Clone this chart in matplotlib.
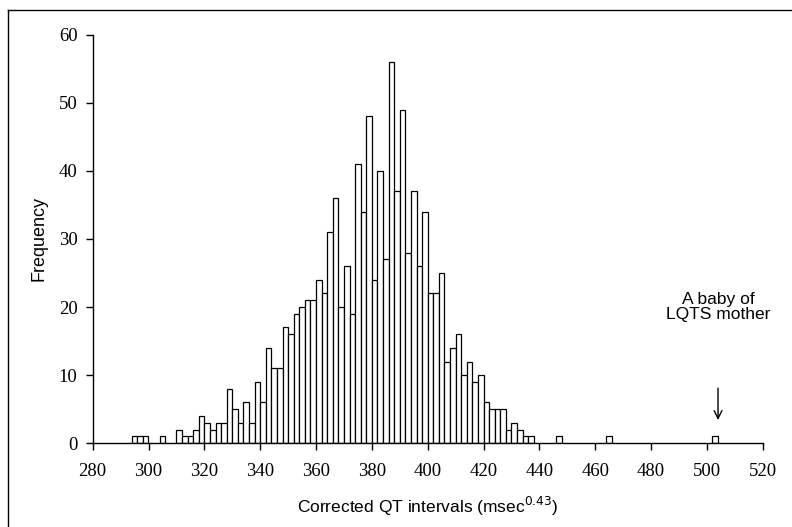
import matplotlib.pyplot as plt
from matplotlib.lines import Line2D

# bin left edges (width 2) and counts
bin_left = [294, 296, 298, 304, 310, 312, 314, 316, 318, 320,
            322, 324, 326, 328, 330, 332, 334, 336, 338, 340,
            342, 344, 346, 348, 350, 352, 354, 356, 358, 360,
            362, 364, 366, 368, 370, 372, 374, 376, 378, 380,
            382, 384, 386, 388, 390, 392, 394, 396, 398, 400,
            402, 404, 406, 408, 410, 412, 414, 416, 418, 420,
            422, 424, 426, 428, 430, 432, 434, 436, 446, 464,
            502]
counts = [1, 1, 1, 1, 2, 1, 1, 2, 4, 3,
          2, 3, 3, 8, 5, 3, 6, 3, 9, 6,
          14, 11, 11, 17, 16, 19, 20, 21, 21, 24,
          22, 31, 36, 20, 26, 19, 41, 34, 48, 24,
          40, 27, 56, 37, 49, 28, 37, 26, 34, 22,
          22, 25, 12, 14, 16, 10, 12, 9, 10, 6,
          5, 5, 5, 2, 3, 2, 1, 1, 1, 1,
          1]
bin_width = 2

x_ticks = list(range(280, 521, 20))
y_ticks = list(range(0, 61, 10))

fig = plt.figure(figsize=(7.92, 5.27), dpi=100)
ax = fig.add_axes([0.117, 0.159, 0.846, 0.775])

ax.bar(bin_left, counts, width=bin_width, align='edge',
       color='white', edgecolor='black', linewidth=0.9)

ax.set_xlim(280, 520)
ax.set_ylim(0, 60)
ax.set_xticks(x_ticks)
ax.set_yticks(y_ticks)

serif = ['Liberation Serif', 'DejaVu Serif']
sans = ['Liberation Sans', 'DejaVu Sans']
for lab in ax.get_xticklabels() + ax.get_yticklabels():
    lab.set_family(serif)
    lab.set_fontsize(13.5)

ax.tick_params(direction='out', length=5, width=1, pad=6)
ax.tick_params(axis='x', pad=9)
for s in ['top', 'right']:
    ax.spines[s].set_visible(False)
for s in ['left', 'bottom']:
    ax.spines[s].set_linewidth(1)

ax.set_ylabel('Frequency', family=sans, fontsize=13, labelpad=8)
ax.set_xlabel('Corrected QT intervals (msec$^{0.43}$)', family=sans,
              fontsize=12.5, labelpad=11)

# annotation for the outlier
ax.text(504, 20, 'A baby of\nLQTS mother', family=sans, fontsize=12.5,
        ha='center', va='center', linespacing=0.95)
ax.annotate('', xy=(504, 3.0), xytext=(504, 8.5),
            arrowprops=dict(arrowstyle='->', color='black', lw=1,
                            mutation_scale=14))

# scan frame lines on the left and top
fig.add_artist(Line2D([8 / 792, 8 / 792], [0, 1 - 10 / 527],
                      transform=fig.transFigure, color='black', lw=1))
fig.add_artist(Line2D([8 / 792, 1], [1 - 10 / 527, 1 - 10 / 527],
                      transform=fig.transFigure, color='black', lw=1))

fig.savefig('out.png', dpi=100)
